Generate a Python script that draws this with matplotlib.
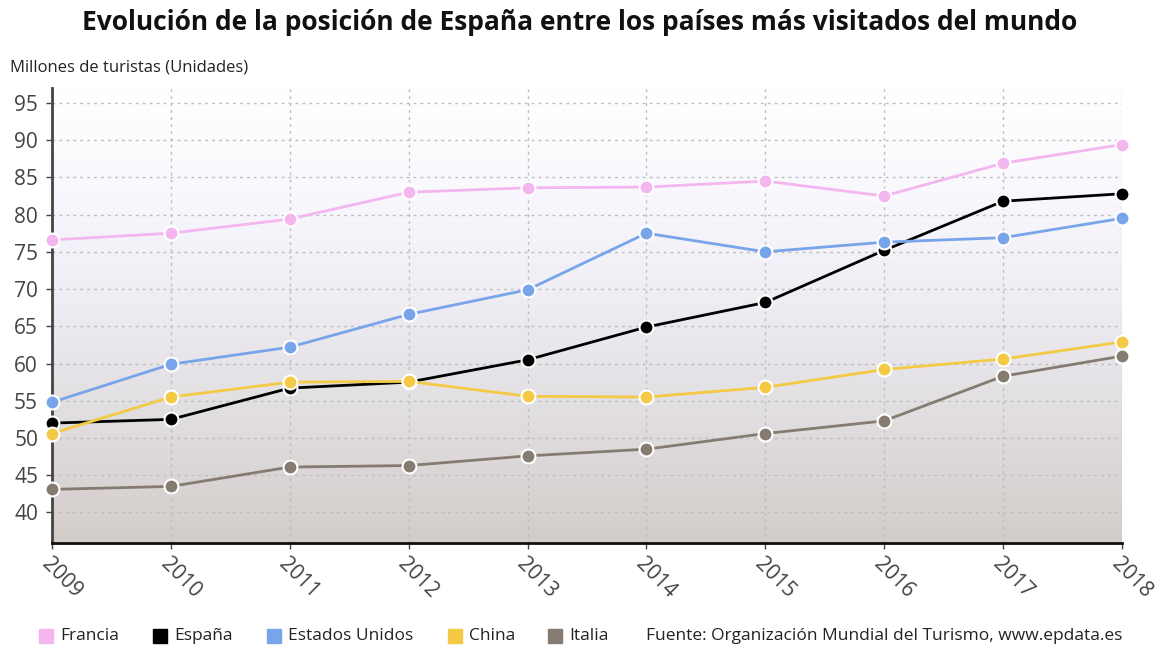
import numpy as np
import matplotlib
matplotlib.use("Agg")
import matplotlib.pyplot as plt
from matplotlib.colors import LinearSegmentedColormap
from matplotlib.lines import Line2D

plt.rcParams['font.family'] = ['Open Sans', 'DejaVu Sans']

years = [2009, 2010, 2011, 2012, 2013, 2014, 2015, 2016, 2017, 2018]
francia = [76.6, 77.5, 79.4, 83.0, 83.6, 83.7, 84.5, 82.5, 86.9, 89.4]
espana = [52.0, 52.5, 56.7, 57.5, 60.5, 64.9, 68.2, 75.2, 81.8, 82.8]
eeuu = [54.8, 59.9, 62.2, 66.6, 69.9, 77.5, 75.0, 76.3, 76.9, 79.5]
china = [50.6, 55.5, 57.5, 57.6, 55.6, 55.5, 56.8, 59.2, 60.6, 62.9]
italia = [43.1, 43.5, 46.1, 46.3, 47.6, 48.5, 50.6, 52.3, 58.3, 61.0]

series = [
    ("Francia", francia, "#f4b6ef"),
    ("España", espana, "#000000"),
    ("Estados Unidos", eeuu, "#78a4ea"),
    ("China", china, "#f4c944"),
    ("Italia", italia, "#857b71"),
]
yticks = [40, 45, 50, 55, 60, 65, 70, 75, 80, 85, 90, 95]

W, H = 1159, 648
fig = plt.figure(figsize=(W/100, H/100), dpi=100)
ax = fig.add_axes([52/W, 1-543/H, (1122-52)/W, (543-88)/H])
ymin, ymax = 35.9, 97.0
ax.set_xlim(2009, 2018)
ax.set_ylim(ymin, ymax)

# gradient background
cmap = LinearSegmentedColormap.from_list(
    "bg", [(0, "#d3cdc9"), (0.3, "#e2dfe2"), (0.55, "#efeef5"), (0.75, "#f8f7fd"), (1.0, "#ffffff")])
grad = np.linspace(0, 1, 256).reshape(-1, 1)
ax.imshow(grad, cmap=cmap, aspect='auto', origin='lower',
          extent=[2009, 2018, ymin, ymax], zorder=0)

ax.set_yticks(yticks)
ax.set_xticks(years)
ax.grid(True, color="#bdbdbd", linestyle=(0, (2, 3)), linewidth=1.0, zorder=1)

for name, vals, col in series:
    ax.plot(years, vals, color=col, lw=2, zorder=3, clip_on=False,
            marker='o', markersize=10, markerfacecolor=col,
            markeredgecolor='white', markeredgewidth=1.5)

for s in ['top', 'right']:
    ax.spines[s].set_visible(False)
ax.spines['left'].set_color("#444444")
ax.spines['left'].set_linewidth(2)
ax.spines['bottom'].set_color("#111111")
ax.spines['bottom'].set_linewidth(2)

ax.tick_params(axis='y', labelsize=15, colors="#444444", length=4, width=1, pad=6)
ax.tick_params(axis='x', labelsize=15, colors="#444444", length=4, width=1, pad=4)
for lab in ax.get_xticklabels():
    lab.set_rotation(-45)
    lab.set_ha('left')
    lab.set_va('top')
    lab.set_rotation_mode('anchor')

fig.text(0.5, 1-22/H, "Evolución de la posición de España entre los países más visitados del mundo",
         ha='center', va='center', fontsize=19, fontweight='bold', color="#111111")
fig.text(10/W, 1-68/H, "Millones de turistas (Unidades)", ha='left', va='center',
         fontsize=12, color="#222222")

# legend drawn manually along the bottom
leg_y = 1 - 636/H
square_x = [46, 160, 274, 455, 555]
for (name, _, col), sx in zip(series, square_x):
    fig.add_artist(Line2D([sx/W], [leg_y], marker='s', linestyle='none', markersize=10,
                          markerfacecolor=col, markeredgecolor=col, transform=fig.transFigure))
    fig.text((sx + 14)/W, leg_y, name, ha='left', va='center', fontsize=12.5, color="#222222")
fig.text(1122/W, leg_y, "Fuente: Organización Mundial del Turismo, www.epdata.es",
         ha='right', va='center', fontsize=12.5, color="#222222")

fig.savefig("out.png", dpi=100)
